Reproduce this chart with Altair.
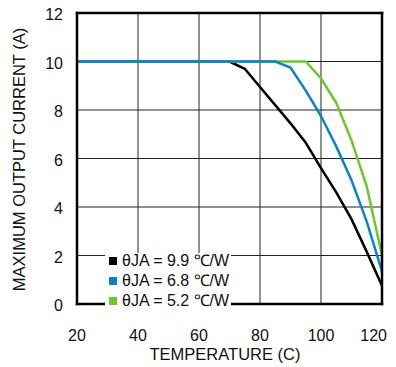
import altair as alt
import pandas as pd

series = ["θJA = 9.9 ℃/W", "θJA = 6.8 ℃/W", "θJA = 5.2 ℃/W"]
colors = ["#000000", "#0a84c8", "#6cc62c"]

x_ticks = [20, 40, 60, 80, 100, 120]
y_ticks = [0, 2, 4, 6, 8, 10, 12]
x_title = "TEMPERATURE (C)"
y_title = "MAXIMUM OUTPUT CURRENT (A)"

temp_black = [20, 70, 75, 80, 85, 90, 95, 100, 105, 110, 115, 120]
cur_black = [10, 10, 9.7, 8.95, 8.2, 7.45, 6.65, 5.6, 4.6, 3.5, 2.15, 0.75]

temp_blue = [20, 85, 90, 95, 100, 105, 110, 115, 120]
cur_blue = [10, 10, 9.75, 8.8, 7.75, 6.5, 5.1, 3.4, 1.35]

temp_green = [20, 95, 100, 105, 110, 115, 120]
cur_green = [10, 10, 9.3, 8.3, 6.75, 4.85, 2.0]

rows = []
for name, xs, ys in [(series[0], temp_black, cur_black),
                     (series[1], temp_blue, cur_blue),
                     (series[2], temp_green, cur_green)]:
    for i, (x, y) in enumerate(zip(xs, ys)):
        rows.append({"series": name, "temp": x, "current": y, "i": i})
df = pd.DataFrame(rows)

xmin, xmax = x_ticks[0], x_ticks[-1]
ymin, ymax = y_ticks[0], y_ticks[-1]
grid_rows = []
for t in x_ticks:
    edge = 1 if t in (xmin, xmax) else 0
    grid_rows.append({"id": f"x{t}", "gx": t, "gy": ymin, "edge": edge, "k": 0})
    grid_rows.append({"id": f"x{t}", "gx": t, "gy": ymax, "edge": edge, "k": 1})
for t in y_ticks:
    edge = 1 if t in (ymin, ymax) else 0
    grid_rows.append({"id": f"y{t}", "gx": xmin, "gy": t, "edge": edge, "k": 0})
    grid_rows.append({"id": f"y{t}", "gx": xmax, "gy": t, "edge": edge, "k": 1})
grid_df = pd.DataFrame(grid_rows)

font = "Liberation Sans"
tc = "#111"
fs = 16
fst = 16.5
W, H = 305, 291

xscale = alt.Scale(domain=[xmin, xmax], nice=False)
yscale = alt.Scale(domain=[ymin, ymax], nice=False)

xt = pd.DataFrame({"v": x_ticks})
yt = pd.DataFrame({"v": y_ticks})

grid = alt.Chart(grid_df).transform_filter(alt.datum.edge == 0).mark_line(
    strokeWidth=1, opacity=1).encode(
    x=alt.X("gx:Q", scale=xscale, axis=None),
    y=alt.Y("gy:Q", scale=yscale, axis=None),
    stroke=alt.value("#222222"),
    detail="id:N", order="k:Q")
frame = alt.Chart(grid_df).transform_filter(alt.datum.edge == 1).mark_line(
    strokeWidth=2.5, strokeCap="square", opacity=1).encode(
    x=alt.X("gx:Q", scale=xscale, axis=None),
    y=alt.Y("gy:Q", scale=yscale, axis=None),
    stroke=alt.value("#000000"),
    detail="id:N", order="k:Q")

color_enc = alt.Color("series:N", scale=alt.Scale(domain=series, range=colors),
                      legend=alt.Legend(orient="none", legendX=28, legendY=240, title=None,
                                        fillColor="white", padding=0, symbolType="square",
                                        symbolSize=16, symbolStrokeWidth=4, labelFontSize=fs,
                                        labelFont=font, labelColor=tc, labelOffset=1,
                                        rowPadding=0, symbolOpacity=1))

def layer(name):
    return alt.Chart(df).transform_filter(alt.datum.series == name).mark_line(
        strokeWidth=2.5).encode(
        x=alt.X("temp:Q", scale=xscale, axis=None),
        y=alt.Y("current:Q", scale=yscale, axis=None),
        color=color_enc, order="i:Q")

xlab = alt.Chart(xt).transform_filter(alt.datum.v < 120).mark_text(
    font=font, fontSize=fs, color=tc, baseline="top", align="center").encode(
    x=alt.X("v:Q", scale=xscale, axis=None), y=alt.value(H + 24), text="v:Q")
xlab_last = alt.Chart(xt).transform_filter(alt.datum.v >= 120).mark_text(
    font=font, fontSize=fs, color=tc, baseline="top", align="right", dx=5).encode(
    x=alt.X("v:Q", scale=xscale, axis=None), y=alt.value(H + 24), text="v:Q")
ylab = alt.Chart(yt).mark_text(
    font=font, fontSize=fs, color=tc, baseline="middle", align="right", dx=-14, dy=2).encode(
    y=alt.Y("v:Q", scale=yscale, axis=None), x=alt.value(0), text="v:Q")
xtitle = alt.Chart(pd.DataFrame({"t": [x_title]})).mark_text(
    font=font, fontSize=fst, color=tc, baseline="top", align="center").encode(
    x=alt.value(148), y=alt.value(H + 43), text="t:N")
ytitle = alt.Chart(pd.DataFrame({"t": [y_title]})).mark_text(
    font=font, fontSize=fst, color=tc, baseline="middle", align="center", angle=270).encode(
    x=alt.value(-57), y=alt.value(H / 2 + 1), text="t:N")

chart = alt.layer(grid, layer(series[0]), layer(series[2]), layer(series[1]), frame,
                  xlab, xlab_last, ylab, xtitle, ytitle).properties(
    width=W, height=H,
    background="white",
    autosize=alt.AutoSizeParams(type="none"),
    padding={"left": 69, "top": 5, "right": 6, "bottom": 61},
).configure_view(stroke=None)

chart.save("out.html", embed_options={"renderer": "svg", "actions": False})
